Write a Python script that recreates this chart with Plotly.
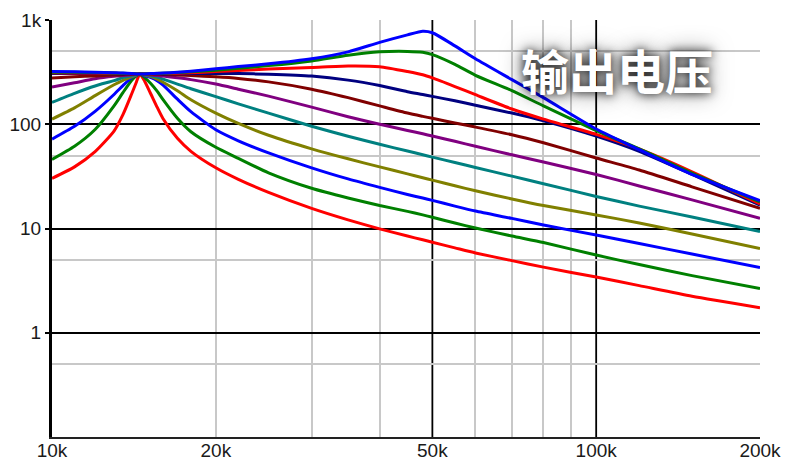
import plotly.graph_objects as go

# Frequency sweep points (kHz)
freq_khz = [10, 11, 12, 13, 13.5, 14, 14.3, 14.5, 14.8, 15.2, 15.6, 16, 17, 18, 20, 22, 25,
            30, 35, 40, 45, 48, 50, 55, 60, 70, 80, 100, 120, 150, 200]

# Output voltage for each stepped parameter value, lowest curve first
v_red_low = [30.3, 39.0, 54.6, 85.9, 123.5, 194, 256, 303, 259, 194, 146, 113, 73.3, 55.0, 38.2,
             29.6, 22.2, 15.6, 12.1, 9.93, 8.47, 7.79, 7.38, 6.52, 5.83, 4.92, 4.26, 3.42, 2.83,
             2.24, 1.74]
v_green_low = [46, 61.5, 89, 150, 201, 263, 292, 303, 280, 245, 208, 172, 114, 84.7, 60.1, 47.1,
               34.2, 24.3, 19.6, 16.6, 14.6, 13.5, 12.8, 11.3, 10.1, 8.47, 7.33, 5.56, 4.51, 3.53,
               2.65]
v_blue_low = [72, 95.5, 133, 193, 235, 280, 296, 303, 292, 280, 262, 237, 174, 132, 88.5, 69.4,
              53.2, 38.2, 29.9, 24.8, 21.2, 19.6, 18.6, 16.4, 14.7, 12.5, 10.8, 8.65, 7.18, 5.69,
              4.22]
v_olive = [112, 143.5, 188, 239, 264, 285, 298, 303, 297, 286, 271, 253, 210, 172, 128, 102, 78.4,
           58.1, 46.6, 39.0, 33.4, 30.7, 29.1, 25.7, 23.0, 19.2, 16.6, 13.5, 11.3, 8.85, 6.43]
v_teal = [162, 198, 233, 262, 280, 292, 300, 303, 299, 292, 283, 271, 243, 219, 184, 157, 128,
          95.7, 76.7, 64.3, 55.3, 51.0, 48.4, 43.0, 38.5, 31.8, 26.9, 20.3, 16.4, 12.9, 9.35]
v_purple = [227, 250, 273, 288, 293, 298, 301, 303, 300.6, 297, 293, 290, 279, 268, 243, 217, 186,
            146, 118, 100, 87.2, 81.0, 77.1, 68.7, 61.4, 50.9, 43.4, 33.0, 25.6, 18.8, 12.5]
v_maroon = [278, 285, 291, 296, 299, 301, 302, 303, 303, 302, 301, 300, 297, 293, 285, 275, 255,
            217, 180, 150, 128, 119, 114, 103, 94, 79.3, 66.4, 47.5, 36.4, 25.1, 15.6]
v_navy = [307, 307, 306, 305, 304, 304, 303, 303, 303, 303, 304, 304, 305, 306, 307, 306, 302,
          290, 265, 235, 205, 193, 185, 168, 152, 128, 108, 77, 55, 33, 16.8]
v_red_high = [312, 311, 310, 308, 306, 305, 304, 303, 303, 304, 305, 306, 309, 312, 320, 328, 338,
              350, 362, 356, 320, 298, 278, 230, 192, 140, 112, 80, 58, 35, 17.2]
v_green_high = [316, 315, 313, 310, 308, 306, 304, 303, 304, 305, 307, 309, 313, 318, 330, 345, 365,
                405, 460, 495, 500, 490, 465, 375, 295, 210, 150, 87, 58, 34, 18.0]
v_blue_high = [320, 318, 316, 312, 310, 306, 304, 303, 304, 306, 308, 310, 315, 322, 340, 358, 380,
               425, 495, 610, 720, 780, 755, 565, 425, 268, 180, 90, 57, 33, 18.5]

series = [
    (v_red_low, "#ff0000"),
    (v_green_low, "#008000"),
    (v_blue_low, "#0000ff"),
    (v_olive, "#808000"),
    (v_teal, "#008080"),
    (v_purple, "#800080"),
    (v_maroon, "#800000"),
    (v_navy, "#000080"),
    (v_red_high, "#ff0000"),
    (v_green_high, "#008000"),
    (v_blue_high, "#0000ff"),
]

# Axis labels and grid positions
x_tick_vals_khz = [10, 20, 50, 100, 200]
x_tick_text = ["10k", "20k", "50k", "100k", "200k"]
x_minor_grid_khz = [20, 30, 40, 60, 70, 80, 90, 200]
x_major_grid_khz = [50, 100]
y_tick_vals = [1, 10, 100, 1000]
y_tick_text = ["1", "10", "100", "1k"]
y_minor_grid = [0.5, 5, 50, 500]

freq_hz = [f * 1000 for f in freq_khz]

fig = go.Figure()
for values, color in series:
    fig.add_trace(go.Scatter(
        x=freq_hz, y=values, mode="lines",
        line=dict(color=color, width=3, shape="spline", smoothing=0.6),
        showlegend=False, hoverinfo="skip",
    ))

for f in x_major_grid_khz:
    fig.add_shape(type="line", xref="x", yref="paper", x0=f * 1000, x1=f * 1000, y0=0, y1=1,
                  line=dict(color="#000000", width=1.8), layer="below")

tick_font = dict(family="Liberation Sans, Arial, sans-serif", size=19, color="#1a1a1a")

fig.update_xaxes(
    type="log", range=[4, 5.30103], automargin=False,
    tickmode="array", tickvals=[f * 1000 for f in x_tick_vals_khz], ticktext=x_tick_text,
    tickfont=tick_font, showgrid=False, zeroline=False, ticklabelstandoff=-5,
    showline=True, linecolor="#222222", linewidth=2, mirror=False, ticks="",
    minor=dict(tickmode="array", tickvals=[f * 1000 for f in x_minor_grid_khz],
               showgrid=True, gridcolor="#c8c8c8", gridwidth=1.8, ticks=""),
)
fig.update_yaxes(
    type="log", range=[-1, 3], automargin=False,
    tickmode="array", tickvals=y_tick_vals, ticktext=y_tick_text,
    tickfont=tick_font, showgrid=True, gridcolor="#000000", gridwidth=1.8, zeroline=False,
    showline=True, linecolor="#000000", linewidth=3, ticks="outside", ticklen=4,
    tickcolor="#000000", tickwidth=1.5,
    minor=dict(tickmode="array", tickvals=y_minor_grid,
               showgrid=True, gridcolor="#c8c8c8", gridwidth=1.8, ticks=""),
)

fig.add_annotation(
    text="输出电压", xref="paper", yref="paper", x=0.798, y=0.8825,
    showarrow=False, xanchor="center", yanchor="middle",
    font=dict(family="Noto Sans CJK SC", size=48, color="#ffffff", weight="bold",
              shadow="0px 0px 10px rgba(0,0,0,0.9), 0px 0px 22px rgba(0,0,0,0.6)"),
)

fig.update_layout(
    width=787, height=461,
    margin=dict(l=52, r=27, t=20, b=24),
    paper_bgcolor="#ffffff", plot_bgcolor="#ffffff",
)

fig.write_html("out.html")
